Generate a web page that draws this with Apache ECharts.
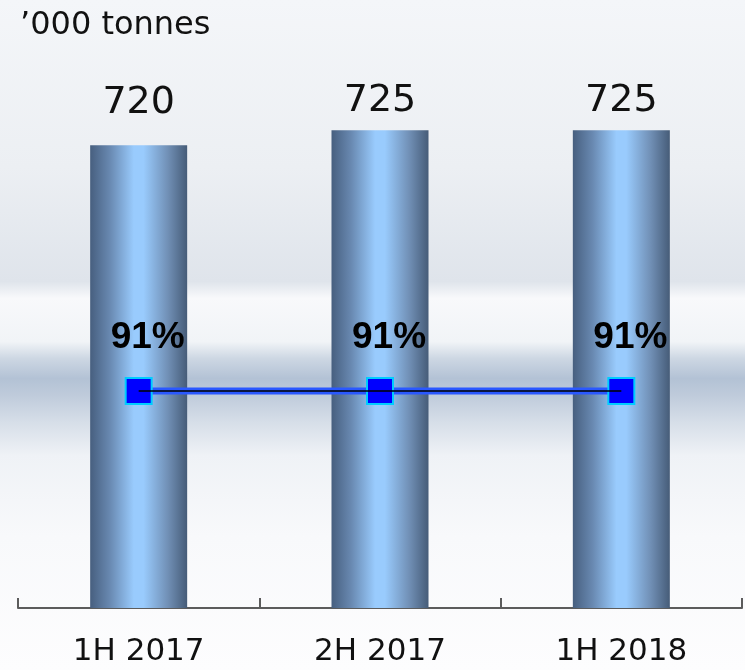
<!DOCTYPE html>
<html>
<head>
<meta charset="utf-8">
<script src="https://cdn.jsdelivr.net/npm/echarts@6/dist/echarts.min.js"></script>
<style>
  html, body { margin: 0; padding: 0; }
  #chart { width: 745px; height: 670px; }
</style>
</head>
<body>
<div id="chart"></div>
<script>
    // half-year periods
    let periods = ['1H 2017', '2H 2017', '1H 2018'];
    // production, '000 tonnes
    let tonnes = [720, 725, 725];
    // utilisation rate, %
    let utilisation = [91, 91, 91];

    let chart = echarts.init(document.getElementById('chart'));

    let barGradient = new echarts.graphic.LinearGradient(0, 0, 1, 0, [
        { offset: 0, color: '#475f7f' },
        { offset: 0.2, color: '#6888b0' },
        { offset: 0.45, color: '#99cbfd' },
        { offset: 0.55, color: '#99cbfd' },
        { offset: 0.8, color: '#7190b6' },
        { offset: 1, color: '#465c78' }
    ]);

    // backdrop: soft grey sky with a white swoosh and blue-grey streaks
    let backdrop = new echarts.graphic.LinearGradient(0, 0, 0, 1, [
        { offset: 0, color: '#f4f6f9' },
        { offset: 0.25, color: '#eceff3' },
        { offset: 0.42, color: '#dfe4eb' },
        { offset: 0.445, color: '#f8f9fb' },
        { offset: 0.51, color: '#f1f4f7' },
        { offset: 0.535, color: '#cdd7e3' },
        { offset: 0.565, color: '#b3c2d5' },
        { offset: 0.59, color: '#bfcbdb' },
        { offset: 0.63, color: '#d6dee8' },
        { offset: 0.68, color: '#eff2f6' },
        { offset: 0.8, color: '#f8f9fb' },
        { offset: 1, color: '#fdfdfe' }
    ]);

    let option = {
        animation: false,
        backgroundColor: backdrop,
        title: {
            text: '\u2019000 tonnes',
            left: 20,
            top: 10,
            padding: 0,
            textStyle: {
                fontFamily: 'DejaVu Sans',
                fontSize: 32,
                fontWeight: 'normal',
                color: '#111'
            }
        },
        grid: {
            left: 18,
            right: 3,
            top: 40,
            bottom: 62
        },
        xAxis: {
            type: 'category',
            data: periods,
            axisLine: {
                lineStyle: { color: '#5c5c5c', width: 2 }
            },
            axisTick: {
                show: true,
                inside: true,
                length: 10,
                lineStyle: { color: '#5c5c5c', width: 2 }
            },
            axisLabel: {
                margin: 28,
                fontFamily: 'DejaVu Sans',
                fontSize: 31,
                color: '#111'
            }
        },
        yAxis: [
            { type: 'value', min: 566, max: 755, show: false },
            { type: 'value', min: 0, max: 238.2, show: false }
        ],
        series: [
            {
                type: 'bar',
                barWidth: 97,
                data: tonnes.map((v, i) => ({
                    value: v,
                    label: { distance: i === 0 ? 23 : 10 }
                })),
                itemStyle: { color: barGradient },
                label: {
                    show: true,
                    position: 'top',
                    fontFamily: 'DejaVu Sans',
                    fontSize: 38,
                    color: '#111'
                }
            },
            {
                type: 'line',
                yAxisIndex: 1,
                data: utilisation,
                z: 5,
                lineStyle: { color: '#2a58ff', width: 7 },
                symbol: 'rect',
                symbolSize: 26,
                itemStyle: { color: '#0000ff', borderColor: '#00ccff', borderWidth: 2 },
                label: {
                    show: true,
                    position: 'top',
                    distance: 21,
                    offset: [9, 0],
                    formatter: '{c}%',
                    fontFamily: 'Liberation Sans',
                    fontWeight: 'bold',
                    fontSize: 37,
                    color: '#000'
                }
            },
            {
                type: 'line',
                yAxisIndex: 1,
                data: utilisation,
                z: 6,
                symbol: 'none',
                lineStyle: { color: '#000', width: 1.5 },
                silent: true
            }
        ]
    };

    chart.setOption(option);
</script>
</body>
</html>
